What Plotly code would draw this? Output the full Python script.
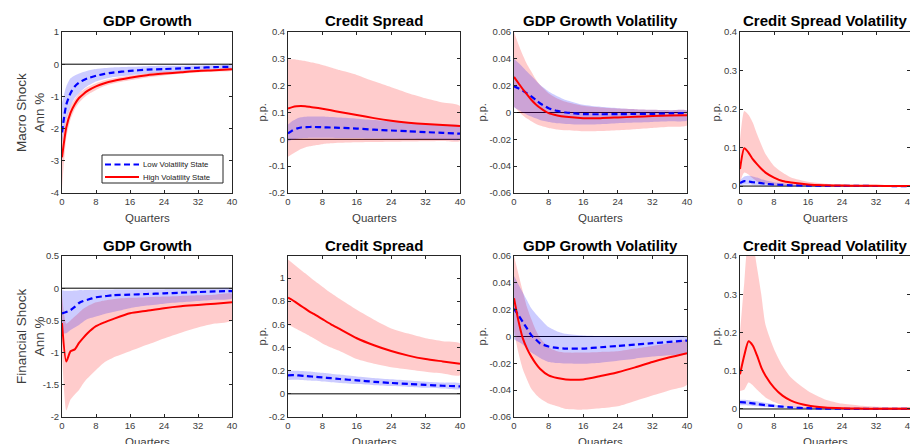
import plotly.graph_objects as go

# ---------------- data ----------------
quarters = [0, 1, 2, 3, 4, 5, 6, 8, 10, 12, 16, 20, 24, 28, 32, 36, 40]

# Row 1: Macro shock
macro_gdp_low = [-2.12, -1.26, -0.9, -0.69, -0.57, -0.5, -0.44, -0.36, -0.3, -0.26, -0.21, -0.17, -0.15, -0.13, -0.11, -0.09, -0.08]
macro_gdp_low_up = [-1.2, -0.69, -0.44, -0.35, -0.29, -0.24, -0.2, -0.15, -0.12, -0.1, -0.08, -0.06, -0.05, -0.045, -0.04, -0.035, -0.03]
macro_gdp_low_lo = [-2.45, -1.7, -1.31, -1.05, -0.9, -0.78, -0.68, -0.54, -0.46, -0.4, -0.34, -0.29, -0.25, -0.22, -0.19, -0.16, -0.14]
macro_gdp_high = [-2.89, -1.97, -1.51, -1.24, -1.05, -0.93, -0.83, -0.69, -0.59, -0.52, -0.42, -0.34, -0.29, -0.25, -0.21, -0.19, -0.16]
macro_gdp_high_up = [-2.3, -1.66, -1.3, -1.08, -0.9, -0.8, -0.71, -0.59, -0.5, -0.44, -0.35, -0.28, -0.23, -0.2, -0.17, -0.15, -0.12]
macro_gdp_high_lo = [-3.85, -2.3, -1.72, -1.4, -1.2, -1.06, -0.95, -0.8, -0.68, -0.6, -0.5, -0.41, -0.35, -0.3, -0.26, -0.23, -0.2]

macro_cs_low = [0.022, 0.033, 0.04, 0.044, 0.045, 0.046, 0.046, 0.045, 0.044, 0.043, 0.04, 0.036, 0.033, 0.03, 0.027, 0.024, 0.021]
macro_cs_low_up = [0.055, 0.068, 0.077, 0.082, 0.084, 0.085, 0.085, 0.085, 0.083, 0.081, 0.077, 0.072, 0.067, 0.062, 0.058, 0.055, 0.052]
macro_cs_low_lo = [-0.008, -0.002, 0.002, 0.004, 0.005, 0.006, 0.006, 0.006, 0.006, 0.005, 0.005, 0.004, 0.003, 0.002, 0.001, 0.0, -0.001]
macro_cs_high = [0.115, 0.12, 0.123, 0.124, 0.123, 0.121, 0.119, 0.114, 0.108, 0.102, 0.091, 0.079, 0.069, 0.062, 0.057, 0.053, 0.05]
macro_cs_high_up = [0.298, 0.298, 0.297, 0.295, 0.292, 0.288, 0.285, 0.277, 0.268, 0.258, 0.24, 0.216, 0.194, 0.172, 0.153, 0.137, 0.124]
macro_cs_high_lo = [-0.065, -0.055, -0.045, -0.036, -0.03, -0.026, -0.023, -0.018, -0.015, -0.013, -0.011, -0.01, -0.009, -0.008, -0.007, -0.006, -0.006]

macro_gv_low = [0.0195, 0.018, 0.0164, 0.0142, 0.012, 0.0094, 0.0069, 0.0032, 0.0012, 0.0, -0.0012, -0.0013, -0.0012, -0.0011, -0.001, -0.0007, -0.0005]
macro_gv_low_up = [0.04, 0.037, 0.034, 0.0305, 0.0273, 0.024, 0.0206, 0.0157, 0.0122, 0.0094, 0.0057, 0.0042, 0.0032, 0.0025, 0.002, 0.0017, 0.0015]
macro_gv_low_lo = [0.004, 0.002, 0.0, -0.0016, -0.003, -0.0043, -0.0055, -0.007, -0.008, -0.0085, -0.009, -0.0087, -0.008, -0.0075, -0.007, -0.0065, -0.006]
macro_gv_high = [0.0265, 0.022, 0.0175, 0.0135, 0.0095, 0.0062, 0.0035, -0.0005, -0.0022, -0.0032, -0.0042, -0.0042, -0.0037, -0.0032, -0.0027, -0.0023, -0.002]
macro_gv_high_up = [0.06, 0.051, 0.043, 0.036, 0.0306, 0.025, 0.0207, 0.0144, 0.0105, 0.008, 0.005, 0.0038, 0.003, 0.0025, 0.002, 0.0017, 0.0015]
macro_gv_high_lo = [0.0045, 0.001, -0.002, -0.0045, -0.0065, -0.0083, -0.0097, -0.0115, -0.0127, -0.0133, -0.014, -0.0138, -0.0132, -0.0124, -0.0115, -0.0106, -0.0097]

macro_cv_low = [0.008, 0.013, 0.012, 0.01, 0.009, 0.0075, 0.006, 0.004, 0.003, 0.002, 0.001, 0.0006, 0.0004, 0.0003, 0.0002, 0.0001, 0.0001]
macro_cv_low_up = [0.015, 0.025, 0.027, 0.025, 0.022, 0.018, 0.015, 0.01, 0.007, 0.005, 0.003, 0.002, 0.001, 0.0008, 0.0006, 0.0005, 0.0004]
macro_cv_low_lo = [0.002, 0.004, 0.004, 0.003, 0.002, 0.0015, 0.001, 0.001, 0.0005, 0.0003, 0.0, 0.0, 0.0, 0.0, 0.0, 0.0, 0.0]
macro_cv_high = [0.044, 0.098, 0.087, 0.07, 0.057, 0.045, 0.035, 0.022, 0.013, 0.009, 0.004, 0.002, 0.0012, 0.0008, 0.0005, 0.0003, 0.0002]
macro_cv_high_up = [0.12, 0.195, 0.185, 0.165, 0.135, 0.108, 0.083, 0.052, 0.035, 0.022, 0.011, 0.006, 0.004, 0.003, 0.002, 0.0015, 0.001]
macro_cv_high_lo = [0.01, 0.035, 0.03, 0.02, 0.012, 0.008, 0.006, 0.003, 0.002, 0.001, 0.0, 0.0, 0.0, 0.0, 0.0, 0.0, 0.0]

# Row 2: Financial shock
fin_gdp_low = [-0.39, -0.37, -0.34, -0.29, -0.23, -0.2, -0.18, -0.14, -0.125, -0.11, -0.1, -0.09, -0.08, -0.07, -0.06, -0.05, -0.045]
fin_gdp_low_up = [-0.03, -0.04, -0.04, -0.035, -0.03, -0.03, -0.028, -0.025, -0.022, -0.02, -0.018, -0.016, -0.015, -0.014, -0.013, -0.012, -0.011]
fin_gdp_low_lo = [-0.7, -0.7, -0.65, -0.61, -0.57, -0.52, -0.48, -0.44, -0.4, -0.37, -0.31, -0.27, -0.24, -0.22, -0.2, -0.18, -0.16]
fin_gdp_high = [-0.54, -1.14, -0.98, -0.95, -0.85, -0.77, -0.7, -0.59, -0.53, -0.48, -0.39, -0.35, -0.31, -0.28, -0.26, -0.24, -0.22]
fin_gdp_high_up = [-0.1, -0.55, -0.5, -0.44, -0.38, -0.32, -0.28, -0.22, -0.19, -0.17, -0.15, -0.14, -0.13, -0.12, -0.11, -0.1, -0.09]
fin_gdp_high_lo = [-1.0, -1.9, -1.73, -1.65, -1.58, -1.48, -1.4, -1.27, -1.15, -1.08, -0.98, -0.88, -0.78, -0.69, -0.61, -0.55, -0.5]

fin_cs_low = [0.16, 0.162, 0.16, 0.157, 0.154, 0.151, 0.148, 0.142, 0.135, 0.128, 0.116, 0.104, 0.094, 0.085, 0.077, 0.07, 0.064]
fin_cs_low_up = [0.2, 0.2, 0.199, 0.197, 0.195, 0.192, 0.189, 0.182, 0.174, 0.166, 0.15, 0.137, 0.125, 0.115, 0.105, 0.097, 0.09]
fin_cs_low_lo = [0.12, 0.122, 0.122, 0.12, 0.118, 0.115, 0.112, 0.106, 0.1, 0.094, 0.084, 0.075, 0.067, 0.06, 0.053, 0.047, 0.042]
fin_cs_high = [0.83, 0.81, 0.785, 0.76, 0.735, 0.71, 0.69, 0.645, 0.6, 0.56, 0.48, 0.42, 0.37, 0.33, 0.3, 0.28, 0.26]
fin_cs_high_up = [1.16, 1.13, 1.1, 1.07, 1.04, 1.01, 0.98, 0.925, 0.87, 0.82, 0.725, 0.64, 0.565, 0.52, 0.48, 0.455, 0.435]
fin_cs_high_lo = [0.595, 0.58, 0.56, 0.54, 0.52, 0.5, 0.48, 0.435, 0.4, 0.37, 0.3, 0.26, 0.23, 0.21, 0.19, 0.175, 0.16]

fin_gv_low = [0.0207, 0.016, 0.011, 0.006, 0.001, -0.002, -0.005, -0.0075, -0.0085, -0.009, -0.009, -0.008, -0.007, -0.006, -0.005, -0.004, -0.003]
fin_gv_low_up = [0.045, 0.039, 0.033, 0.027, 0.021, 0.017, 0.0135, 0.007, 0.0038, 0.002, 0.0007, 0.0003, 0.0, 0.0, 0.0, 0.0, 0.0]
fin_gv_low_lo = [-0.002, -0.004, -0.006, -0.009, -0.012, -0.014, -0.016, -0.019, -0.0198, -0.0202, -0.0203, -0.0195, -0.018, -0.0165, -0.015, -0.014, -0.013]
fin_gv_high = [0.0286, 0.012, -0.001, -0.009, -0.015, -0.02, -0.024, -0.029, -0.031, -0.032, -0.032, -0.0295, -0.0266, -0.023, -0.019, -0.0155, -0.0124]
fin_gv_high_up = [0.06, 0.047, 0.034, 0.022, 0.013, 0.005, -0.001, -0.008, -0.011, -0.012, -0.012, -0.0115, -0.011, -0.009, -0.007, -0.005, -0.003]
fin_gv_high_lo = [0.004, -0.012, -0.024, -0.032, -0.039, -0.043, -0.046, -0.05, -0.052, -0.054, -0.0545, -0.0535, -0.052, -0.048, -0.044, -0.04, -0.036]

fin_cv_low = [0.018, 0.017, 0.016, 0.0145, 0.013, 0.0115, 0.01, 0.008, 0.006, 0.004, 0.002, 0.001, 0.0006, 0.0004, 0.0003, 0.0002, 0.0001]
fin_cv_low_up = [0.024, 0.024, 0.023, 0.0215, 0.02, 0.018, 0.016, 0.012, 0.009, 0.007, 0.004, 0.002, 0.001, 0.0008, 0.0006, 0.0005, 0.0004]
fin_cv_low_lo = [0.01, 0.0095, 0.009, 0.008, 0.007, 0.006, 0.005, 0.004, 0.003, 0.002, 0.001, 0.0005, 0.0, 0.0, 0.0, 0.0, 0.0]
fin_cv_high = [0.091, 0.14, 0.177, 0.166, 0.14, 0.109, 0.087, 0.056, 0.035, 0.022, 0.009, 0.004, 0.002, 0.001, 0.0006, 0.0004, 0.0003]
fin_cv_high_up = [0.2, 0.33, 0.44, 0.43, 0.37, 0.3, 0.22, 0.157, 0.113, 0.082, 0.047, 0.025, 0.014, 0.009, 0.006, 0.005, 0.004]
fin_cv_high_lo = [0.047, 0.05, 0.069, 0.062, 0.05, 0.04, 0.03, 0.018, 0.01, 0.006, 0.002, 0.001, 0.0, 0.0, 0.0, 0.0, 0.0]

panel_titles = ["GDP Growth", "Credit Spread", "GDP Growth Volatility", "Credit Spread Volatility"]
row_labels = ["Macro Shock<br>Ann %", "Financial Shock<br>Ann %"]
legend_names = ["Low Volatility State", "High Volatility State"]
x_ticks = [0, 8, 16, 24, 32, 40]

y_ranges = [[-4, 1], [-0.2, 0.4], [-0.06, 0.06], [-0.018, 0.4],
            [-2, 0.5], [-0.2, 1.19], [-0.06, 0.06], [-0.021, 0.4]]
y_ticks = [[-4, -3, -2, -1, 0, 1],
           [-0.2, -0.1, 0, 0.1, 0.2, 0.3, 0.4],
           [-0.06, -0.04, -0.02, 0, 0.02, 0.04, 0.06],
           [0, 0.1, 0.2, 0.3, 0.4],
           [-2, -1.5, -1, -0.5, 0, 0.5],
           [-0.2, 0, 0.2, 0.4, 0.6, 0.8, 1],
           [-0.06, -0.04, -0.02, 0, 0.02, 0.04, 0.06],
           [0, 0.1, 0.2, 0.3, 0.4]]

panels = [
    (macro_gdp_low, macro_gdp_low_up, macro_gdp_low_lo, macro_gdp_high, macro_gdp_high_up, macro_gdp_high_lo),
    (macro_cs_low, macro_cs_low_up, macro_cs_low_lo, macro_cs_high, macro_cs_high_up, macro_cs_high_lo),
    (macro_gv_low, macro_gv_low_up, macro_gv_low_lo, macro_gv_high, macro_gv_high_up, macro_gv_high_lo),
    (macro_cv_low, macro_cv_low_up, macro_cv_low_lo, macro_cv_high, macro_cv_high_up, macro_cv_high_lo),
    (fin_gdp_low, fin_gdp_low_up, fin_gdp_low_lo, fin_gdp_high, fin_gdp_high_up, fin_gdp_high_lo),
    (fin_cs_low, fin_cs_low_up, fin_cs_low_lo, fin_cs_high, fin_cs_high_up, fin_cs_high_lo),
    (fin_gv_low, fin_gv_low_up, fin_gv_low_lo, fin_gv_high, fin_gv_high_up, fin_gv_high_lo),
    (fin_cv_low, fin_cv_low_up, fin_cv_low_lo, fin_cv_high, fin_cv_high_up, fin_cv_high_lo),
]

# ---------------- layout geometry (pixels) ----------------
W, H = 910, 444
col_px = [(62, 232), (288, 460), (514, 687), (740, 910)]
row_px = [(32, 193), (256, 417)]
ylab_px = [261, 481, 715]
legend_box = (102, 155, 223, 183)   # left, top, right, bottom (px)

FONT = "Liberation Sans, Arial, Helvetica, sans-serif"
AX = "#262626"
TXT = "#3c3c3c"
RED = "#ff0000"
BLUE = "#0000ff"
RED_FILL = "rgba(255,0,0,0.2)"
BLUE_FILL = "rgba(0,0,255,0.2)"
BLUE_DASH = "6px,3.5px"

fig = go.Figure()
layout = dict(width=W, height=H, margin=dict(l=0, r=0, t=0, b=0),
              paper_bgcolor="white", plot_bgcolor="white", showlegend=False,
              font=dict(family=FONT, color=TXT))
annotations = []
shapes = []


def px_x(v):
    return v / W


def px_y(v):
    return 1 - v / H


for i, (low, low_up, low_lo, high, high_up, high_lo) in enumerate(panels):
    r, c = divmod(i, 4)
    n = i + 1
    xa = "x" if n == 1 else f"x{n}"
    ya = "y" if n == 1 else f"y{n}"
    x0, x1 = col_px[c]
    yt, yb = row_px[r]
    # bands
    for up, lo, col in [(high_up, high_lo, RED_FILL), (low_up, low_lo, BLUE_FILL)]:
        fig.add_trace(go.Scatter(
            x=quarters + quarters[::-1], y=up + lo[::-1], xaxis=xa, yaxis=ya,
            fill="toself", fillcolor=col, line=dict(width=0, shape="spline", smoothing=0.6),
            mode="lines", showlegend=False, hoverinfo="skip"))
    # lines
    fig.add_trace(go.Scatter(
        x=quarters, y=low, xaxis=xa, yaxis=ya, mode="lines",
        line=dict(color=BLUE, width=2.2, dash=BLUE_DASH, shape="spline", smoothing=0.6),
        name=legend_names[0], showlegend=False))
    fig.add_trace(go.Scatter(
        x=quarters, y=high, xaxis=xa, yaxis=ya, mode="lines",
        line=dict(color=RED, width=2, shape="spline", smoothing=0.6),
        name=legend_names[1], showlegend=False))

    xdom = [px_x(x0), min(px_x(x1), 1.0)]
    ydom = [px_y(yb), px_y(yt)]
    axcommon = dict(showline=True, linecolor=AX, linewidth=1, mirror="ticks",
                    ticks="inside", ticklen=3, tickcolor=AX, tickwidth=1,
                    showgrid=False, zeroline=False, automargin=False,
                    ticklabeloverflow="allow",
                    tickfont=dict(family=FONT, size=9.5, color=TXT))
    layout["xaxis" if n == 1 else f"xaxis{n}"] = dict(
        domain=xdom, range=[0, 40], anchor=ya, tickmode="array",
        tickvals=x_ticks, ticktext=[str(t) for t in x_ticks], **axcommon)
    layout["yaxis" if n == 1 else f"yaxis{n}"] = dict(
        domain=ydom, range=y_ranges[i], anchor=xa, tickmode="array",
        tickvals=y_ticks[i], ticktext=[f"{t:g}" for t in y_ticks[i]], **axcommon)

    # zero reference line
    shapes.append(dict(type="line", xref=f"{xa} domain", yref=ya, x0=0, x1=1,
                       y0=0, y1=0, line=dict(color="black", width=1), layer="below"))

    # title
    annotations.append(dict(text=f"<b>{panel_titles[c]}</b>", xref="paper", yref="paper",
                            x=px_x((x0 + x1) / 2), y=px_y(yt - 11),
                            xanchor="center", yanchor="middle", showarrow=False,
                            font=dict(family=FONT, size=15, color="black")))
    # x label
    annotations.append(dict(text="Quarters", xref="paper", yref="paper",
                            x=px_x((x0 + x1) / 2), y=px_y(yb + 24.5),
                            xanchor="center", yanchor="middle", showarrow=False,
                            font=dict(family=FONT, size=11.5, color=TXT)))
    # y label
    if c == 0:
        annotations.append(dict(text=row_labels[r], xref="paper", yref="paper",
                                x=px_x(30.5), y=px_y((yt + yb) / 2), textangle=-90,
                                xanchor="center", yanchor="middle", showarrow=False,
                                font=dict(family=FONT, size=13.5, color=TXT)))
    else:
        annotations.append(dict(text="p.p.", xref="paper", yref="paper",
                                x=px_x(ylab_px[c - 1]), y=px_y((yt + yb) / 2), textangle=-90,
                                xanchor="center", yanchor="middle", showarrow=False,
                                font=dict(family=FONT, size=11, color=TXT)))

# ---- legend box (drawn like the MATLAB legend) ----
lx0, ly0, lx1, ly1 = legend_box
shapes.append(dict(type="rect", xref="paper", yref="paper",
                   x0=px_x(lx0), x1=px_x(lx1), y0=px_y(ly1), y1=px_y(ly0),
                   line=dict(color=AX, width=1), fillcolor="white", layer="above"))
entry_y = [ly0 + 9.5, ly0 + 22]
entry_style = [dict(color=BLUE, width=2.2, dash=BLUE_DASH), dict(color=RED, width=2)]
for k in range(2):
    shapes.append(dict(type="line", xref="paper", yref="paper",
                       x0=px_x(lx0 + 3), x1=px_x(lx0 + 37),
                       y0=px_y(entry_y[k]), y1=px_y(entry_y[k]),
                       line=entry_style[k], layer="above"))
    annotations.append(dict(text=legend_names[k], xref="paper", yref="paper",
                            x=px_x(lx0 + 39), y=px_y(entry_y[k]),
                            xanchor="left", yanchor="middle", showarrow=False,
                            font=dict(family=FONT, size=7.8, color="#222")))

layout["annotations"] = annotations
layout["shapes"] = shapes
fig.update_layout(**layout)
fig.write_html("out.html")
